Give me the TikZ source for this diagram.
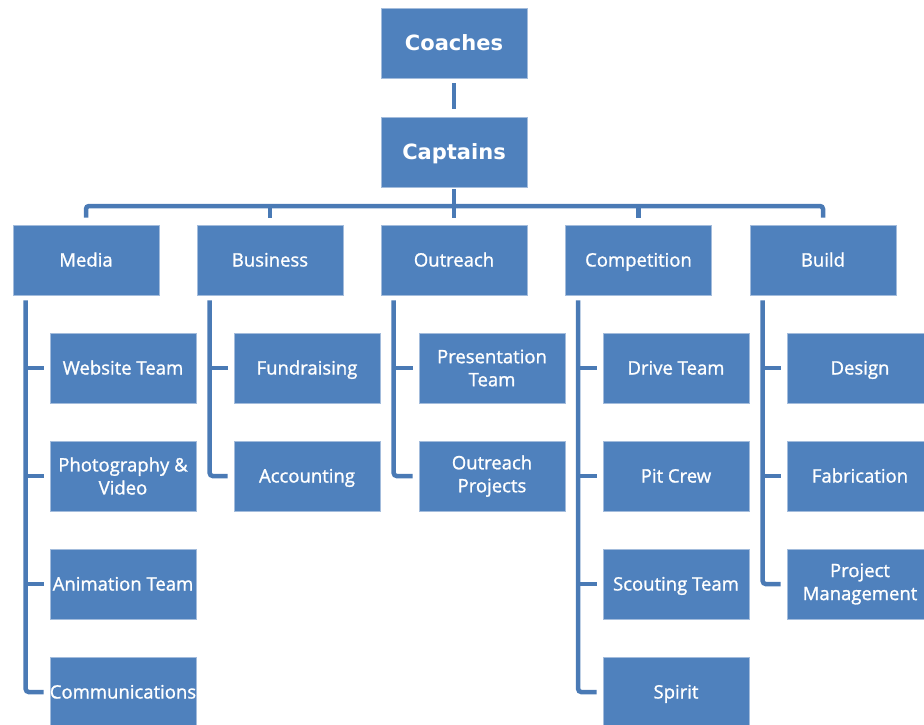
\documentclass[tikz,border=0pt]{standalone}
\usepackage{fontspec}
\setmainfont{Open Sans}[FakeBold=1.2]
\newfontfamily\headfont{DejaVu Sans}
\usepackage{xcolor}
\usetikzlibrary{positioning}
\definecolor{boxblue}{HTML}{4F81BD}
\definecolor{boxedge}{HTML}{A3BCDC}
\definecolor{lineblue}{HTML}{4A7AB5}
\tikzset{
  unitbox/.style={draw=boxedge, line width=0.6pt, fill=boxblue, text=white,
    minimum width=146pt, minimum height=70pt, inner sep=0pt, align=center,
    text height=15pt, text depth=2pt,
    font=\fontsize{18.5}{23}\selectfont},
  twoline/.style={text height={}, text depth={}},
  headbox/.style={unitbox, text height=18pt, text depth=2.7pt,
    font=\headfont\bfseries\fontsize{21}{25}\selectfont},
  link/.style={draw=lineblue, line width=4.5pt},
}
\begin{document}
\begin{tikzpicture}[x=1pt,y=1pt]
                \useasboundingbox (0,0) rectangle (924,-725);
                \clip (0,0) rectangle (924,-725);
                % top
                \node [headbox] (coaches) at (454,-43) {Coaches};
                \node [headbox] (captains) at (454,-152) {Captains};
                % departments
                \node [unitbox] (media) at (86,-260) {Media};
                \node [unitbox] (business) at (270,-260) {Business};
                \node [unitbox] (outreach) at (454,-260) {Outreach};
                \node [unitbox] (competition) at (638.5,-260) {Competition};
                \node [unitbox] (build) at (823,-260) {Build};
                % sub teams
                \node [unitbox] (website) at (123,-368) {Website Team};
                \node [unitbox, twoline] (photo) at (123,-476) {Photography \&\\Video};
                \node [unitbox] (anim) at (123,-584) {Animation Team};
                \node [unitbox] (comm) at (123,-692) {Communications};
                \node [unitbox] (fund) at (307,-368) {Fundraising};
                \node [unitbox] (acct) at (307,-476) {Accounting};
                \node [unitbox, twoline] (present) at (492,-368) {Presentation\\Team};
                \node [unitbox, twoline] (oproj) at (492,-476) {Outreach\\Projects};
                \node [unitbox] (drive) at (676,-368) {Drive Team};
                \node [unitbox] (pit) at (676,-476) {Pit Crew};
                \node [unitbox] (scout) at (676,-584) {Scouting Team};
                \node [unitbox] (spirit) at (676,-692) {Spirit};
                \node [unitbox] (design) at (860,-368) {Design};
                \node [unitbox] (fab) at (860,-476) {Fabrication};
                \node [unitbox, twoline] (pm) at (860,-584) {Project\\Management};
                % links
                \draw [link] ([yshift=-5]coaches.south) to ([yshift=8]captains.north);
                \coordinate (bus) at (454,-206);
                \draw [link] ([yshift=-2]captains.south) to (bus);
                \draw [link, rounded corners=3pt] ([yshift=7]media.north) |- (bus) -| ([yshift=7]build.north);
                \foreach \u in {business,outreach,competition}
                    \draw [link] ([yshift=7]\u.north) to (\u.north |- bus);
                % trunks
                \draw [link, rounded corners=3pt] ([xshift=13,yshift=-5]media.south west) coordinate (mt) |- ([xshift=-6]comm.west);
                \draw [link, rounded corners=3pt] ([xshift=13,yshift=-5]business.south west) coordinate (bt) |- ([xshift=-6]acct.west);
                \draw [link, rounded corners=3pt] ([xshift=13,yshift=-5]outreach.south west) coordinate (ot) |- ([xshift=-6]oproj.west);
                \draw [link, rounded corners=3pt] ([xshift=13,yshift=-5]competition.south west) coordinate (ct) |- ([xshift=-6]spirit.west);
                \draw [link, rounded corners=3pt] ([xshift=13,yshift=-5]build.south west) coordinate (dt) |- ([xshift=-6]pm.west);
                \foreach \t/\c in {mt/website,mt/photo,mt/anim,bt/fund,ot/present,ct/drive,ct/pit,ct/scout,dt/design,dt/fab}
                    \draw [link] (\t |- \c.west) to ([xshift=-6]\c.west);
            \end{tikzpicture}
\end{document}
